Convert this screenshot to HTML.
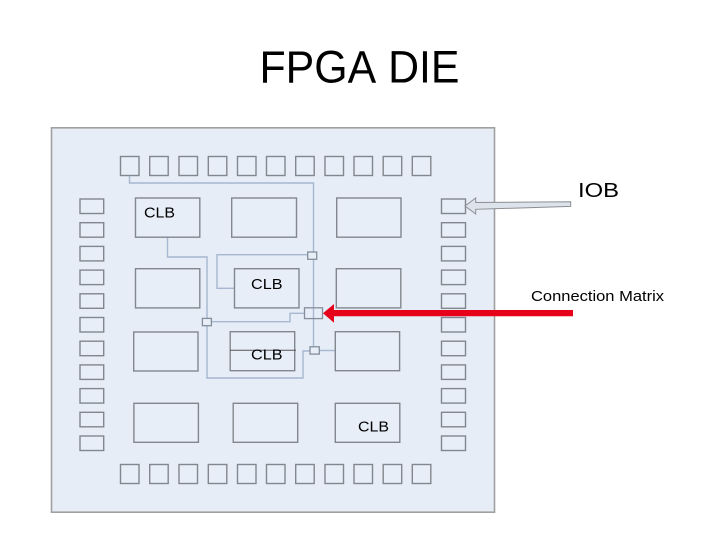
<!DOCTYPE html>
<html>
<head>
<meta charset="utf-8">
<title>FPGA DIE</title>
<style>
html,body{margin:0;padding:0;background:#fff;width:720px;height:540px;overflow:hidden}
svg{display:block}
text{font-family:"Liberation Sans",sans-serif;fill:#000;font-kerning:none}
.s rect{fill:#e7eef8;stroke:#82878e;stroke-width:1.4}
.c{fill:none;stroke:#a6b7cf;stroke-width:1.4}
</style>
</head>
<body>
<svg width="720" height="540" viewBox="0 0 720 540" xmlns="http://www.w3.org/2000/svg">
<text x="259.500" y="82.500" font-size="45" textLength="200" lengthAdjust="spacingAndGlyphs">FPGA DIE</text>
<rect x="51.500" y="127.800" width="443" height="384.400" fill="#e6edf7" stroke="#a0a0a0" stroke-width="1.600"/>

<g class="c">
<path d="M129.500 175.500V183H313.500V351"/>
<path d="M167.500 237V257H207V378H303V351H310"/>
<path d="M234.300 288.300H217V254.700H308"/>
<path d="M211.500 321.700H290V313.300H304.500"/>
<path d="M319.500 350.500H335"/>
</g>

<g class="s">
<rect x="120.500" y="156.500" width="18.500" height="19"/>
<rect x="149.700" y="156.500" width="18.500" height="19"/>
<rect x="179" y="156.500" width="18.500" height="19"/>
<rect x="208.300" y="156.500" width="18.500" height="19"/>
<rect x="237.500" y="156.500" width="18.500" height="19"/>
<rect x="266.500" y="156.500" width="18.500" height="19"/>
<rect x="295.700" y="156.500" width="18.500" height="19"/>
<rect x="325" y="156.500" width="18.500" height="19"/>
<rect x="354" y="156.500" width="18.500" height="19"/>
<rect x="383.200" y="156.500" width="18.500" height="19"/>
<rect x="412.300" y="156.500" width="18.500" height="19"/>

<rect x="120.500" y="464.500" width="18.500" height="19"/>
<rect x="149.700" y="464.500" width="18.500" height="19"/>
<rect x="179" y="464.500" width="18.500" height="19"/>
<rect x="208.300" y="464.500" width="18.500" height="19"/>
<rect x="237.500" y="464.500" width="18.500" height="19"/>
<rect x="266.500" y="464.500" width="18.500" height="19"/>
<rect x="295.700" y="464.500" width="18.500" height="19"/>
<rect x="325" y="464.500" width="18.500" height="19"/>
<rect x="354" y="464.500" width="18.500" height="19"/>
<rect x="383.200" y="464.500" width="18.500" height="19"/>
<rect x="412.300" y="464.500" width="18.500" height="19"/>

<rect x="80" y="199" width="23.700" height="14.500"/>
<rect x="80" y="222.700" width="23.700" height="14.500"/>
<rect x="80" y="246.400" width="23.700" height="14.500"/>
<rect x="80" y="270.100" width="23.700" height="14.500"/>
<rect x="80" y="293.800" width="23.700" height="14.500"/>
<rect x="80" y="317.500" width="23.700" height="14.500"/>
<rect x="80" y="341.200" width="23.700" height="14.500"/>
<rect x="80" y="364.900" width="23.700" height="14.500"/>
<rect x="80" y="388.600" width="23.700" height="14.500"/>
<rect x="80" y="412.300" width="23.700" height="14.500"/>
<rect x="80" y="436" width="23.700" height="14.500"/>

<rect x="441.500" y="199" width="24" height="14.500"/>
<rect x="441.500" y="222.700" width="24" height="14.500"/>
<rect x="441.500" y="246.400" width="24" height="14.500"/>
<rect x="441.500" y="270.100" width="24" height="14.500"/>
<rect x="441.500" y="293.800" width="24" height="14.500"/>
<rect x="441.500" y="317.500" width="24" height="14.500"/>
<rect x="441.500" y="341.200" width="24" height="14.500"/>
<rect x="441.500" y="364.900" width="24" height="14.500"/>
<rect x="441.500" y="388.600" width="24" height="14.500"/>
<rect x="441.500" y="412.300" width="24" height="14.500"/>
<rect x="441.500" y="436" width="24" height="14.500"/>

<rect x="135.500" y="198" width="64.300" height="39.200"/>
<rect x="231.700" y="198" width="64.800" height="39.200"/>
<rect x="336.700" y="198" width="64.300" height="39.200"/>
<rect x="135.500" y="268.700" width="64.300" height="39.200"/>
<rect x="234.500" y="268.700" width="64.500" height="39.200"/>
<rect x="336.300" y="268.700" width="64.500" height="39.200"/>
<rect x="133.700" y="332" width="64.300" height="39"/>
<rect x="230.200" y="331.700" width="64.500" height="39"/>
<rect x="335.300" y="331.700" width="64.300" height="39"/>
<rect x="133.900" y="403.300" width="64.500" height="39"/>
<rect x="233.200" y="403.300" width="64.500" height="39"/>
<rect x="335.300" y="403.300" width="64.500" height="39"/>
</g>

<line x1="230" y1="350.300" x2="296" y2="350.300" stroke="#555" stroke-width="1"/>

<g fill="none" stroke="#848e9c" stroke-width="1.300">
<rect x="307.700" y="252" width="9" height="7.300" fill="#e7eef8"/>
<rect x="202.400" y="318.400" width="9" height="7.300" fill="#e7eef8"/>
<rect x="310" y="346.800" width="9.300" height="7.300" fill="#e7eef8"/>
<rect x="304.500" y="307.800" width="18" height="10.800"/>
</g>

<text x="144" y="217.500" font-size="15" textLength="31" lengthAdjust="spacingAndGlyphs">CLB</text>
<text x="251" y="289" font-size="15" textLength="31.500" lengthAdjust="spacingAndGlyphs">CLB</text>
<text x="251" y="359.500" font-size="15" textLength="31.500" lengthAdjust="spacingAndGlyphs">CLB</text>
<text x="358" y="431.500" font-size="15" textLength="31" lengthAdjust="spacingAndGlyphs">CLB</text>

<path d="M465 206L475.700 198V202.500L570.700 201.700V206.400L475.700 209.300V214Z" fill="#dde3ea" stroke="#8b8f94" stroke-width="1"/>
<text x="578" y="197" font-size="20" textLength="41" lengthAdjust="spacingAndGlyphs">IOB</text>
<text x="531" y="301" font-size="14.500" textLength="133" lengthAdjust="spacingAndGlyphs">Connection Matrix</text>

<path d="M323 313.300L334 304V310H573V316.300H334V322.700Z" fill="#e60019"/>
</svg>
</body>
</html>
